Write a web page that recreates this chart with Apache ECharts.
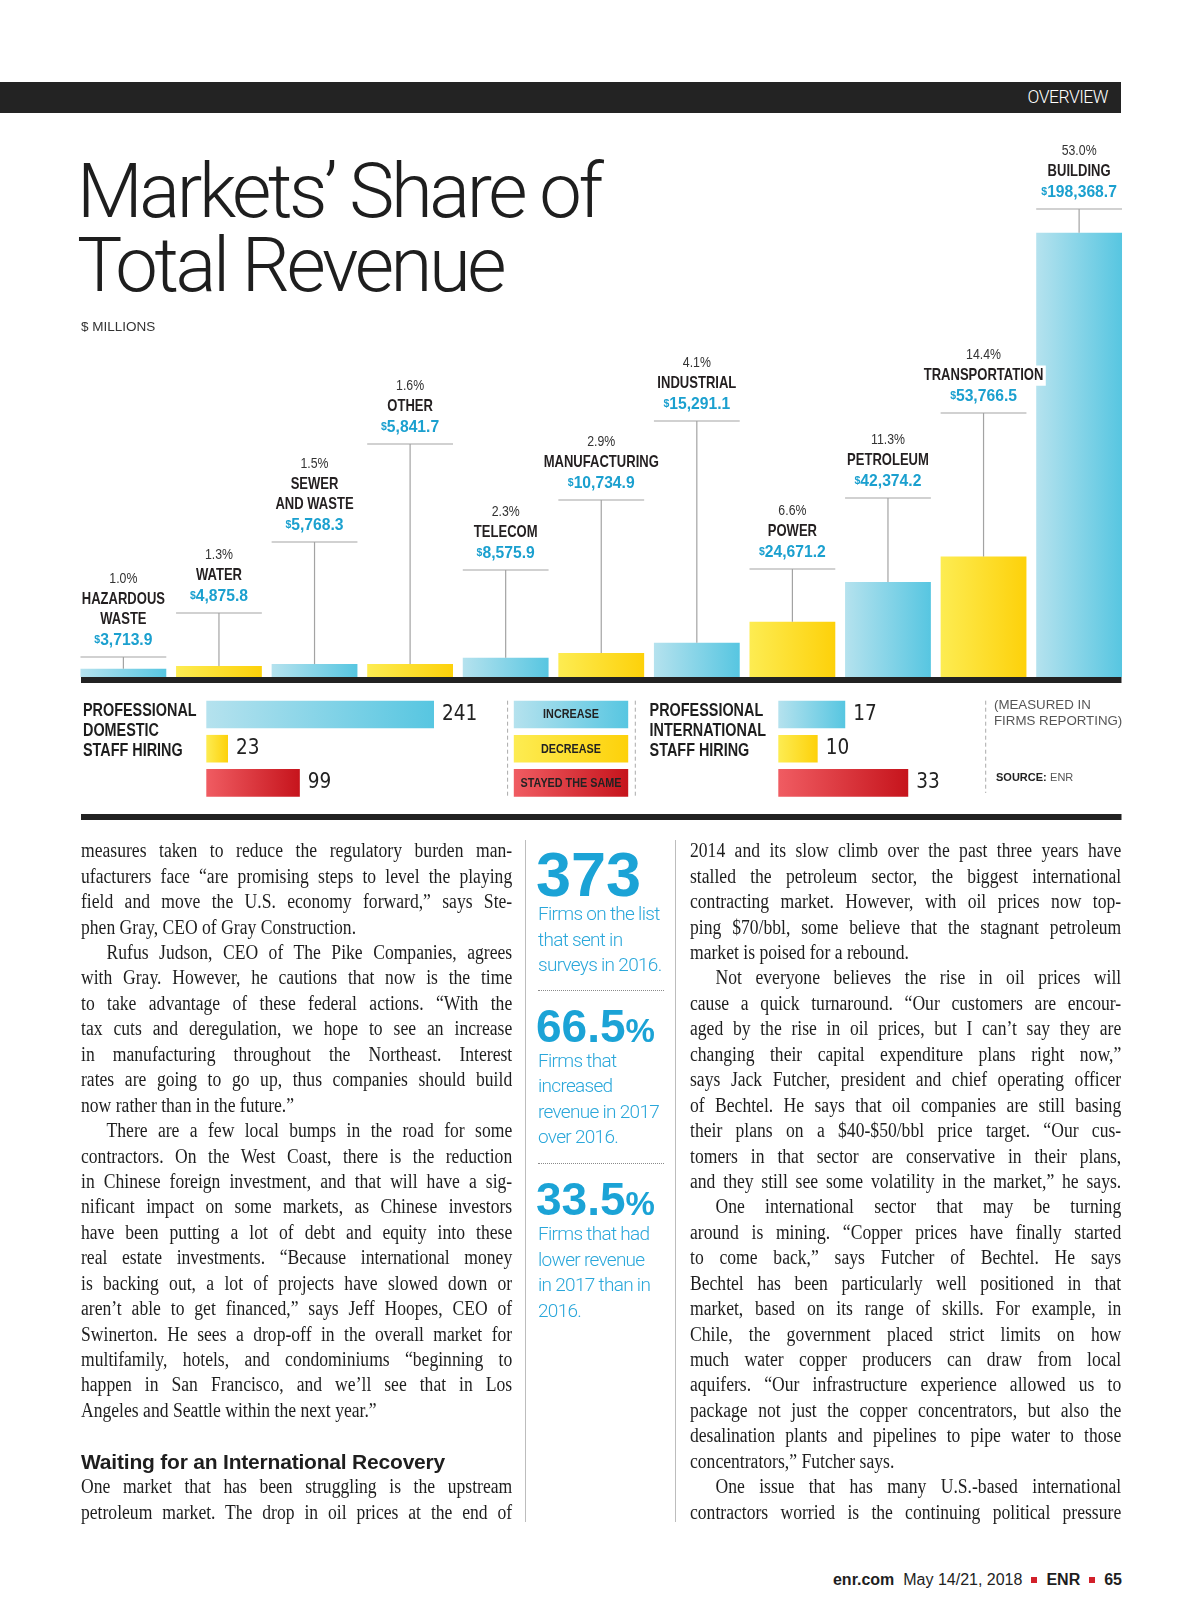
<!DOCTYPE html>
<html>
<head>
<meta charset="utf-8">
<script src="https://cdn.jsdelivr.net/npm/echarts@6/dist/echarts.min.js"></script>
<style>
  html,body{margin:0;padding:0;background:#fff;}
  body{width:1200px;height:1600px;position:relative;overflow:hidden;}
  #chart{position:absolute;left:0;top:0;width:1200px;height:840px;}
  .hdr{position:absolute;left:0;top:82px;width:1121px;height:31px;background:#232323;}
  .hdr span{position:absolute;right:13px;top:5px;color:#fff;font-family:Roboto,'Liberation Sans',sans-serif;font-weight:300;font-size:17.5px;letter-spacing:-0.5px;}
  .title{position:absolute;left:77px;top:155px;font-family:Roboto,'Liberation Sans',sans-serif;font-weight:300;font-size:76px;line-height:73.5px;letter-spacing:-3.4px;color:#1e1e1e;white-space:nowrap;}
  .col{position:absolute;width:490px;transform:scaleX(0.88);transform-origin:0 0;font-family:'Liberation Serif','Times New Roman',serif;font-size:20px;line-height:25.43px;color:#1e1e1e;}
  .j{text-align:justify;text-align-last:justify;}
  .e{text-align:left;}
  .ind{text-indent:29px;}
  .head{position:absolute;left:81px;top:1449px;font-family:'Liberation Sans',Arial,sans-serif;font-weight:bold;font-size:21px;line-height:25px;letter-spacing:-0.2px;color:#1e1e1e;white-space:nowrap;}
  .vline{position:absolute;width:1px;background:#bdbdbd;top:840px;height:682px;}
  .big{position:absolute;left:536px;font-family:'Liberation Sans',Arial,sans-serif;font-weight:bold;color:#1ba3d6;white-space:nowrap;}
  .big small{font-size:33px;}
  .side{position:absolute;left:538px;font-family:Roboto,'Liberation Sans',sans-serif;font-weight:300;font-size:19px;line-height:25.5px;letter-spacing:-0.7px;color:#2aa7da;white-space:nowrap;}
  .dots{position:absolute;left:538px;width:126px;border-top:1px dotted #8a8a8a;}
  .foot{position:absolute;right:78px;top:1570px;font-family:'Liberation Sans',Arial,sans-serif;font-size:16px;line-height:19px;color:#1e1e1e;white-space:nowrap;}
  .foot b{font-weight:bold;}
  .foot i{display:inline-block;width:6px;height:6px;background:#d2202a;margin:0 9px 2px 9px;vertical-align:middle;}
</style>
</head>
<body>
<div id="chart"></div>
<div class="hdr"><span>OVERVIEW</span></div>
<div class="title">Markets’ Share of<br>Total Revenue</div>

<div class="col" style="left:81px;top:838.3px;">
  <div class="j">measures taken to reduce the regulatory burden man-</div>
  <div class="j">ufacturers face “are promising steps to level the playing</div>
  <div class="j">field and move the U.S. economy forward,” says Ste-</div>
  <div class="e">phen Gray, CEO of Gray Construction.</div>
  <div class="j ind">Rufus Judson, CEO of The Pike Companies, agrees</div>
  <div class="j">with Gray. However, he cautions that now is the time</div>
  <div class="j">to take advantage of these federal actions. “With the</div>
  <div class="j">tax cuts and deregulation, we hope to see an increase</div>
  <div class="j">in manufacturing throughout the Northeast. Interest</div>
  <div class="j">rates are going to go up, thus companies should build</div>
  <div class="e">now rather than in the future.”</div>
  <div class="j ind">There are a few local bumps in the road for some</div>
  <div class="j">contractors. On the West Coast, there is the reduction</div>
  <div class="j">in Chinese foreign investment, and that will have a sig-</div>
  <div class="j">nificant impact on some markets, as Chinese investors</div>
  <div class="j">have been putting a lot of debt and equity into these</div>
  <div class="j">real estate investments. “Because international money</div>
  <div class="j">is backing out, a lot of projects have slowed down or</div>
  <div class="j">aren’t able to get financed,” says Jeff Hoopes, CEO of</div>
  <div class="j">Swinerton. He sees a drop-off in the overall market for</div>
  <div class="j">multifamily, hotels, and condominiums “beginning to</div>
  <div class="j">happen in San Francisco, and we’ll see that in Los</div>
  <div class="e">Angeles and Seattle within the next year.”</div>
  <div class="e">&nbsp;</div>
  <div class="e">&nbsp;</div>
  <div class="j">One market that has been struggling is the upstream</div>
  <div class="j">petroleum market. The drop in oil prices at the end of</div>
</div>
<div class="head">Waiting for an International Recovery</div>

<div class="vline" style="left:525px;"></div>
<div class="vline" style="left:675px;"></div>
<div class="big" style="top:842.7px;font-size:63px;line-height:63px;">373</div>
<div class="side" style="top:901px;">Firms on the list<br>that sent in<br>surveys in 2016.</div>
<div class="dots" style="top:990px;"></div>
<div class="big" style="top:1003px;font-size:46px;line-height:46px;">66.5<small>%</small></div>
<div class="side" style="top:1047.5px;">Firms that<br>increased<br>revenue in 2017<br>over 2016.</div>
<div class="dots" style="top:1163px;"></div>
<div class="big" style="top:1175.5px;font-size:46px;line-height:46px;">33.5<small>%</small></div>
<div class="side" style="top:1221px;">Firms that had<br>lower revenue<br>in 2017 than in<br>2016.</div>

<div class="col" style="left:689.5px;top:838.3px;">
  <div class="j">2014 and its slow climb over the past three years have</div>
  <div class="j">stalled the petroleum sector, the biggest international</div>
  <div class="j">contracting market. However, with oil prices now top-</div>
  <div class="j">ping $70/bbl, some believe that the stagnant petroleum</div>
  <div class="e">market is poised for a rebound.</div>
  <div class="j ind">Not everyone believes the rise in oil prices will</div>
  <div class="j">cause a quick turnaround. “Our customers are encour-</div>
  <div class="j">aged by the rise in oil prices, but I can’t say they are</div>
  <div class="j">changing their capital expenditure plans right now,”</div>
  <div class="j">says Jack Futcher, president and chief operating officer</div>
  <div class="j">of Bechtel. He says that oil companies are still basing</div>
  <div class="j">their plans on a $40-$50/bbl price target. “Our cus-</div>
  <div class="j">tomers in that sector are conservative in their plans,</div>
  <div class="j">and they still see some volatility in the market,” he says.</div>
  <div class="j ind">One international sector that may be turning</div>
  <div class="j">around is mining. “Copper prices have finally started</div>
  <div class="j">to come back,” says Futcher of Bechtel. He says</div>
  <div class="j">Bechtel has been particularly well positioned in that</div>
  <div class="j">market, based on its range of skills. For example, in</div>
  <div class="j">Chile, the government placed strict limits on how</div>
  <div class="j">much water copper producers can draw from local</div>
  <div class="j">aquifers. “Our infrastructure experience allowed us to</div>
  <div class="j">package not just the copper concentrators, but also the</div>
  <div class="j">desalination plants and pipelines to pipe water to those</div>
  <div class="e">concentrators,” Futcher says.</div>
  <div class="j ind">One issue that has many U.S.-based international</div>
  <div class="j">contractors worried is the continuing political pressure</div>
</div>

<div class="foot"><b>enr.com</b>&nbsp;&nbsp;May 14/21, 2018<i></i><b>ENR</b><i></i><b>65</b></div>

<script>
// ---------- DATA ----------
const categories = ['HAZARDOUS\nWASTE', 'WATER', 'SEWER\nAND WASTE', 'OTHER', 'TELECOM', 'MANUFACTURING',
                    'INDUSTRIAL', 'POWER', 'PETROLEUM', 'TRANSPORTATION', 'BUILDING'];
const revenue = [3713.9, 4875.8, 5768.3, 5841.7, 8575.9, 10734.9, 15291.1, 24671.2, 42374.2, 53766.5, 198368.7];
const sharePct = [1.0, 1.3, 1.5, 1.6, 2.3, 2.9, 4.1, 6.6, 11.3, 14.4, 53.0];

const hiringCategories = ['INCREASE', 'DECREASE', 'STAYED THE SAME'];
const domesticHiring = [241, 23, 99];
const internationalHiring = [17, 10, 33];

// ---------- LAYOUT (label leader-line heights, px) ----------
const leaderLineY = [657, 613, 542, 444, 570, 500, 421, 569, 498, 413, 209];

// ---------- STYLE ----------
const SANS = "'Liberation Sans',Arial,Helvetica,sans-serif";
const COND = "'DejaVu Sans Condensed','Liberation Sans Narrow',sans-serif";
const grad = (a, b) => new echarts.graphic.LinearGradient(0, 0, 1, 0, [{offset: 0, color: a}, {offset: 1, color: b}]);
const BLUE = () => grad('#b5e2ee', '#57c6e1');
const YELLOW = () => grad('#fdec52', '#fdd10a');
const RED = () => grad('#f05c62', '#c6141c');
const hiringColors = [BLUE, YELLOW, RED];
const LINE_H = 20.4;

const fmt = v => v.toLocaleString('en-US', {minimumFractionDigits: 1, maximumFractionDigits: 1});

const chart = echarts.init(document.getElementById('chart'));

const hiringBar = (vals, xi) => ({
  type: 'bar', xAxisIndex: xi, yAxisIndex: xi, barWidth: 27.6, silent: true,
  data: vals.map((v, i) => ({value: v, itemStyle: {color: hiringColors[i]()}})),
  label: {show: true, position: 'right', distance: 8, fontFamily: COND, fontSize: 20.5, color: '#222'}
});

chart.setOption({
  animation: false,
  grid: [
    {left: 75.6, right: 73.1, top: 229, height: 448},
    {left: 206.3, top: 697.4, height: 102.6, width: 236.2},
    {left: 778.3, top: 697.4, height: 102.6, width: 157.5}
  ],
  xAxis: [
    {type: 'category', gridIndex: 0, data: categories, show: false},
    {type: 'value', gridIndex: 1, min: 0, max: 250, show: false},
    {type: 'value', gridIndex: 2, min: 0, max: 40, show: false}
  ],
  yAxis: [
    {type: 'value', gridIndex: 0, min: 0, max: 200000, show: false},
    {type: 'category', gridIndex: 1, data: hiringCategories, inverse: true, show: false},
    {type: 'category', gridIndex: 2, data: hiringCategories, inverse: true, show: false}
  ],
  series: [
    {
      type: 'bar', xAxisIndex: 0, yAxisIndex: 0, barWidth: 85.8, silent: true,
      data: revenue.map((v, i) => ({value: v, itemStyle: {color: i % 2 ? YELLOW() : BLUE()}}))
    },
    {
      type: 'custom', xAxisIndex: 0, yAxisIndex: 0, z: 5, silent: true,
      data: revenue.map((v, i) => [i, v]),
      renderItem: function (params, api) {
        const i = params.dataIndex;
        const p = api.coord([api.value(0), api.value(1)]);
        const half = 42.9;
        const ly = leaderLineY[i];
        const names = categories[i].split('\n');
        return {
          type: 'group',
          children: [
            {type: 'line', shape: {x1: p[0] - half, y1: ly, x2: p[0] + half, y2: ly}, style: {stroke: '#a3a3a3', lineWidth: 1.2}},
            {type: 'line', shape: {x1: p[0], y1: ly, x2: p[0], y2: p[1]}, style: {stroke: '#a3a3a3', lineWidth: 1.2}},
            {type: 'text', x: p[0], y: ly - 17, scaleX: 0.95, style: {
              x: 0, y: 0, text: '{d|$}{v|' + fmt(revenue[i]) + '}', align: 'center', verticalAlign: 'middle',
              rich: {
                d: {fontFamily: SANS, fontWeight: 'bold', fontSize: 11, fill: '#1ba0cf'},
                v: {fontFamily: SANS, fontWeight: 'bold', fontSize: 16.5, fill: '#1ba0cf'}
              }}},
            {type: 'text', x: p[0], y: ly - 27.2, scaleX: 0.79, style: {
              x: 0, y: 0, text: names.join('\n'), fontFamily: SANS, fontWeight: 'bold', fontSize: 16.5,
              lineHeight: LINE_H, fill: '#231f20', align: 'center', verticalAlign: 'bottom',
              backgroundColor: '#fff', padding: [0, 3]}},
            {type: 'text', x: p[0], y: ly - 17 - LINE_H * (names.length + 1), scaleX: 0.88, style: {
              x: 0, y: 0, text: sharePct[i].toFixed(1) + '%', fontFamily: SANS, fontSize: 14,
              fill: '#333', align: 'center', verticalAlign: 'middle'}}
          ]
        };
      }
    },
    hiringBar(domesticHiring, 1),
    hiringBar(internationalHiring, 2)
  ],
  graphic: [
    {type: 'text', x: 81, y: 327, style: {text: '$ MILLIONS', fontFamily: SANS, fontSize: 13.5, fill: '#333', verticalAlign: 'middle'}},
    {type: 'rect', shape: {x: 81, y: 677, width: 1040.5, height: 6}, style: {fill: '#222'}},
    {type: 'rect', shape: {x: 81, y: 814, width: 1040.5, height: 6}, style: {fill: '#222'}},
    {type: 'text', x: 83, y: 701, scaleX: 0.8, style: {x: 0, y: 0, text: 'PROFESSIONAL\nDOMESTIC\nSTAFF HIRING', fontFamily: SANS, fontWeight: 'bold', fontSize: 18, lineHeight: 20, fill: '#1e1e1e', verticalAlign: 'top'}},
    {type: 'text', x: 649.6, y: 701, scaleX: 0.8, style: {x: 0, y: 0, text: 'PROFESSIONAL\nINTERNATIONAL\nSTAFF HIRING', fontFamily: SANS, fontWeight: 'bold', fontSize: 18, lineHeight: 20, fill: '#1e1e1e', verticalAlign: 'top'}},
    {type: 'line', shape: {x1: 507.6, y1: 700.7, x2: 507.6, y2: 797}, style: {stroke: '#aaa', lineWidth: 1, lineDash: [4, 3]}},
    {type: 'line', shape: {x1: 635.3, y1: 700.7, x2: 635.3, y2: 797}, style: {stroke: '#aaa', lineWidth: 1, lineDash: [4, 3]}},
    {type: 'line', shape: {x1: 985.7, y1: 700.7, x2: 985.7, y2: 793}, style: {stroke: '#aaa', lineWidth: 1, lineDash: [4, 3]}},
    ...hiringCategories.map((c, i) => ({
      type: 'group', x: 513.8, y: 700.7 + i * 34.2,
      children: [
        {type: 'rect', shape: {x: 0, y: 0, width: 114.4, height: 27.6}, style: {fill: hiringColors[i]()}},
        {type: 'text', x: 57.2, y: 14, scaleX: 0.8, style: {x: 0, y: 0, text: c, fontFamily: SANS, fontWeight: 'bold', fontSize: 13.5, fill: '#222', align: 'center', verticalAlign: 'middle'}}
      ]
    })),
    {type: 'text', x: 994, y: 697, style: {text: '(MEASURED IN\nFIRMS REPORTING)', fontFamily: SANS, fontSize: 13.3, lineHeight: 16.3, fill: '#555', verticalAlign: 'top'}},
    {type: 'text', x: 996, y: 778, style: {text: '{b|SOURCE:} {r|ENR}', verticalAlign: 'middle',
      rich: {b: {fontFamily: SANS, fontWeight: 'bold', fontSize: 11, fill: '#222'}, r: {fontFamily: SANS, fontSize: 11, fill: '#555'}}}}
  ]
});
</script>
</body>
</html>
